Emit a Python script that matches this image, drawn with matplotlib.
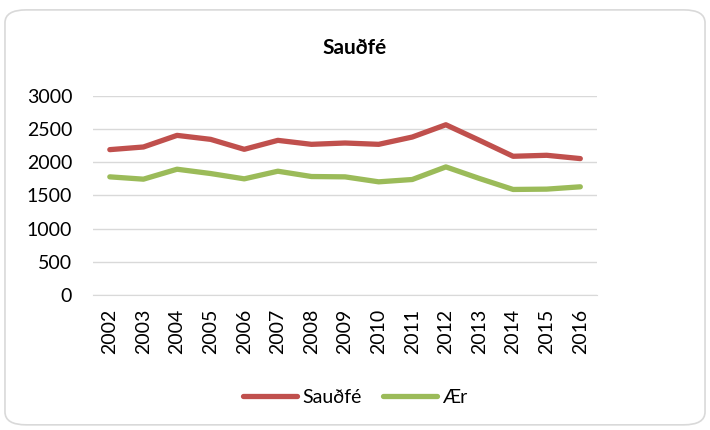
import matplotlib
matplotlib.use("Agg")
from matplotlib import pyplot as plt
from matplotlib.patches import FancyBboxPatch

plt.rcParams['font.family'] = ['Lato', 'DejaVu Sans']

years = ['2002', '2003', '2004', '2005', '2006', '2007', '2008', '2009',
         '2010', '2011', '2012', '2013', '2014', '2015', '2016']
saudfe = [2190, 2230, 2405, 2345, 2195, 2330, 2270, 2290,
          2270, 2380, 2565, 2330, 2090, 2105, 2055]
aer = [1780, 1745, 1895, 1830, 1750, 1865, 1785, 1780,
       1705, 1740, 1930, 1755, 1590, 1595, 1630]

fig = plt.figure(figsize=(7.1, 4.3), dpi=100)
# rounded chart border
border = FancyBboxPatch((0.007, 0.012), 0.986, 0.965,
                        boxstyle="round,pad=0,rounding_size=0.03",
                        transform=fig.transFigure, fill=False,
                        edgecolor='#d9d9d9', linewidth=1.2)
fig.patches.append(border)

ax = fig.add_axes([0.131, 0.314, 0.71, 0.463])
x = range(len(years))
ax.plot(x, saudfe, color='#c0504d', lw=3.8, solid_capstyle='round', label='Sauðfé')
ax.plot(x, aer, color='#9bbb59', lw=3.8, solid_capstyle='round', label='Ær')

ax.set_ylim(0, 3000)
ax.set_yticks(range(0, 3001, 500))
ax.set_xlim(-0.5, len(years) - 0.5)
ax.set_xticks(list(x))
ax.set_xticklabels(years, rotation=90)
ax.grid(axis='y', color='#d9d9d9', lw=1)
ax.set_axisbelow(True)
for s in ['top', 'right', 'left']:
    ax.spines[s].set_visible(False)
ax.spines['bottom'].set_color('#d9d9d9')
ax.tick_params(length=0, labelsize=14)
ax.tick_params(axis='y', pad=15)
ax.tick_params(axis='x', pad=10)

fig.text(0.5, 0.888, 'Sauðfé', ha='center', va='center', fontsize=15, fontweight='bold')
fig.legend(loc='center', bbox_to_anchor=(0.5, 0.075), ncol=2, frameon=False,
           fontsize=14, handlelength=2.8, columnspacing=1.1, handletextpad=0.25)

fig.savefig('out.png', dpi=100)
